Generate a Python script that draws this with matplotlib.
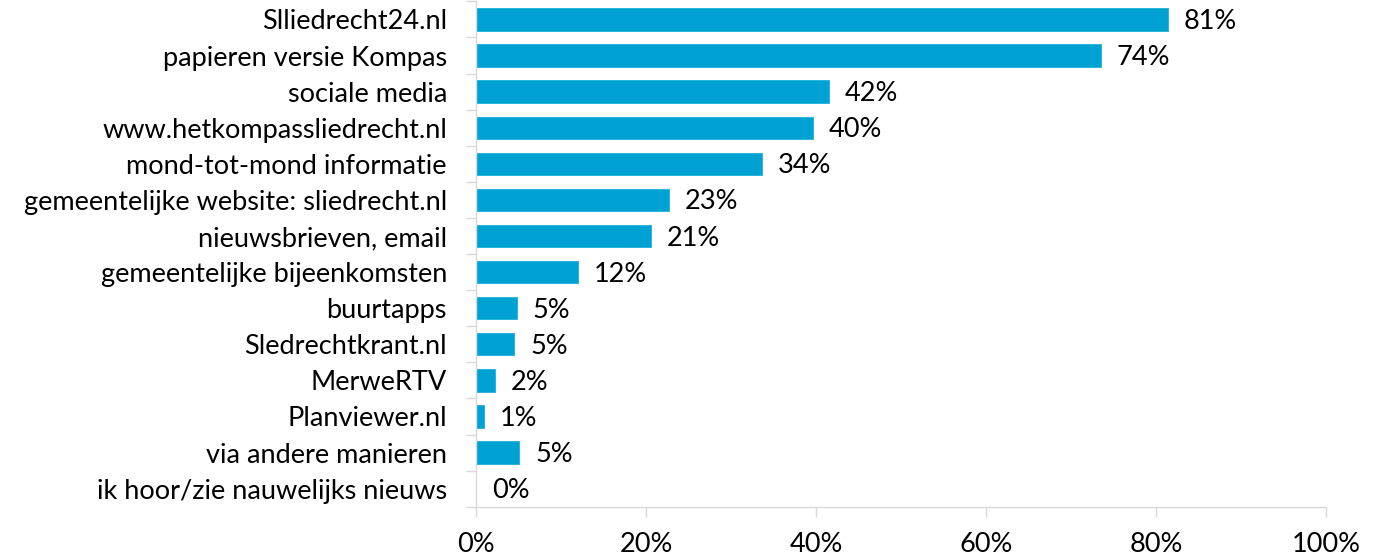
import matplotlib
matplotlib.use("Agg")
import matplotlib.pyplot as plt
from matplotlib.ticker import FuncFormatter

# categorieën en percentages (van boven naar beneden)
categories = [
    "Slliedrecht24.nl",
    "papieren versie Kompas",
    "sociale media",
    "www.hetkompassliedrecht.nl",
    "mond-tot-mond informatie",
    "gemeentelijke website: sliedrecht.nl",
    "nieuwsbrieven, email",
    "gemeentelijke bijeenkomsten",
    "buurtapps",
    "Sledrechtkrant.nl",
    "MerweRTV",
    "Planviewer.nl",
    "via andere manieren",
    "ik hoor/zie nauwelijks nieuws",
]
values = [81.4, 73.5, 41.5, 39.6, 33.6, 22.7, 20.6, 12.0, 4.8, 4.5, 2.2, 0.9, 5.1, 0.0]
labels = ["81%", "74%", "42%", "40%", "34%", "23%", "21%", "12%", "5%", "5%", "2%", "1%", "5%", "0%"]
xticks = [0, 20, 40, 60, 80, 100]

bar_color = "#00a2d3"
axis_color = "#d9d9d9"
fsize = 19.5

plt.rcParams["font.family"] = ["Lato", "DejaVu Sans"]

fig = plt.figure(figsize=(13.84, 5.57), dpi=100)
ax = fig.add_axes([0.344, 0.0903, 0.614, 0.9072])

y = list(range(len(categories)))
ax.barh(y, values, height=0.62, color=bar_color, edgecolor="#1fb0dc", linewidth=0.6)

# waardelabels rechts van de balken
for yi, v, lab in zip(y, values, labels):
    ax.annotate(lab, (v, yi), xytext=(16, -2), textcoords="offset pixels",
                ha="left", va="center", fontsize=fsize, color="black")

ax.set_ylim(len(categories) - 0.5, -0.5)
ax.set_xlim(0, 100)

ax.set_yticks(y)
ax.set_yticklabels(categories)
ax.set_yticks([i + 0.5 for i in range(-1, len(categories))], minor=True)
ax.tick_params(axis="y", which="major", length=0, pad=21, labelsize=fsize)
ax.tick_params(axis="y", which="minor", length=7, width=1, color=axis_color)

ax.set_xticks(xticks)
ax.xaxis.set_major_formatter(FuncFormatter(lambda v, p: f"{v:.0f}%"))
ax.tick_params(axis="x", length=7, width=1, color=axis_color, pad=11, labelsize=fsize)

for side in ["top", "right"]:
    ax.spines[side].set_visible(False)
for side in ["left", "bottom"]:
    ax.spines[side].set_color(axis_color)
    ax.spines[side].set_linewidth(1)

fig.savefig("out.png", dpi=100)
